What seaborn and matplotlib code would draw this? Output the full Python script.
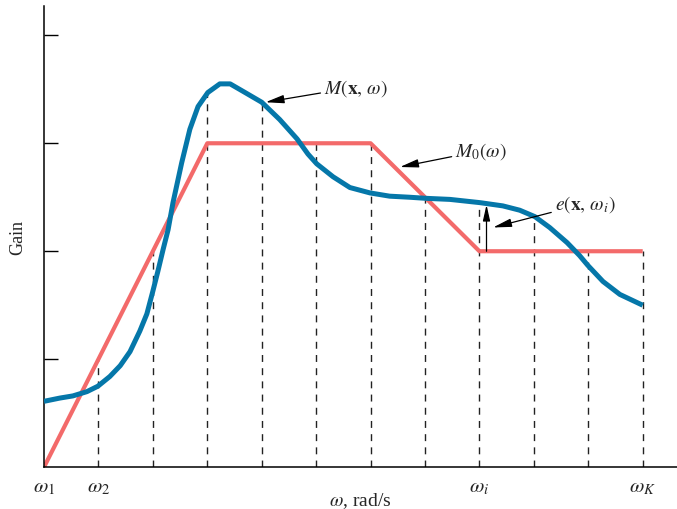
import numpy as np
import pandas as pd
import matplotlib
matplotlib.use('Agg')
import matplotlib.pyplot as plt
import seaborn as sns

# frequency grid omega_1 ... omega_K (index positions)
omega_k = [0, 1, 2, 3, 4, 5, 6, 7, 8, 9, 10, 11]
# desired gain M0(omega), piecewise linear
m0_vals = [0, 1, 2, 3, 3, 3, 3, 2.5, 2, 2, 2, 2]
m_at_k = [0.61, 0.75, 1.63, 3.47, 3.38, 2.81, 2.54, 2.49, 2.45, 2.32, 1.87, 1.50]

# points along the smooth M(x, omega) curve
m_x = [0.00, 0.29, 0.53, 0.79, 0.99, 1.21, 1.40, 1.58, 1.76, 1.89, 2.00, 2.09,
       2.19, 2.28, 2.37, 2.53, 2.68, 2.83, 3.01, 3.23, 3.42, 3.66, 4.00, 4.33,
       4.65, 4.85, 5.01, 5.31, 5.62, 5.99, 6.35, 6.72, 7.02, 7.46, 8.01, 8.43,
       8.74, 9.02, 9.29, 9.61, 9.84, 9.99, 10.27, 10.58, 11.00]
m_y = [0.61, 0.64, 0.66, 0.70, 0.75, 0.84, 0.94, 1.07, 1.26, 1.42, 1.63, 1.81,
       2.02, 2.20, 2.45, 2.82, 3.13, 3.34, 3.47, 3.55, 3.55, 3.48, 3.38, 3.22,
       3.04, 2.90, 2.81, 2.69, 2.59, 2.54, 2.51, 2.50, 2.49, 2.48, 2.45, 2.42,
       2.38, 2.32, 2.22, 2.08, 1.96, 1.87, 1.72, 1.60, 1.50]

tick_pos = [0, 1, 8, 11]
tick_labels = [r'$\omega_1$', r'$\omega_2$', r'$\omega_i$', r'$\omega_K$']

sns.set_theme(style='white')
plt.rcParams['font.family'] = ['Liberation Serif', 'DejaVu Serif']
plt.rcParams['mathtext.fontset'] = 'stix'

RED = '#f36a6a'
BLUE = '#0577a9'

fig = plt.figure(figsize=(6.77, 5.10), dpi=100)
ax = fig.add_axes([0.065, 0.082, 0.935, 0.904])

# dashed sampling lines
tops = np.maximum(m0_vals, m_at_k)
ax.vlines(omega_k[1:], 0, tops[1:], colors='#222222', linestyles=(0, (5, 4.5)), lw=1.0, zorder=1)

df0 = pd.DataFrame({'w': omega_k, 'g': m0_vals})
dfm = pd.DataFrame({'w': m_x, 'g': m_y})
sns.lineplot(data=df0, x='w', y='g', color=RED, lw=3.0, ax=ax, zorder=2)
sns.lineplot(data=dfm, x='w', y='g', color=BLUE, lw=3.6, ax=ax, sort=False, zorder=3)
for ln in ax.lines:
    ln.set_solid_joinstyle('round')
    ln.set_solid_capstyle('butt')

ax.set_xlim(0, 11.63)
ax.set_ylim(0, 4.27)
sns.despine(ax=ax)
for s in ['left', 'bottom']:
    ax.spines[s].set_color('black')
    ax.spines[s].set_linewidth(1.1)

ax.set_yticks([1, 2, 3, 4])
ax.set_yticklabels([])
ax.tick_params(axis='y', direction='in', length=10, width=1.0, color='black', left=True)
ax.set_xticks(tick_pos)
ax.set_xticklabels(tick_labels, fontsize=15)
ax.tick_params(axis='x', length=0, pad=7)

ax.set_xlabel(r'$\omega$, rad/s', fontsize=14, labelpad=-4)
ax.set_ylabel('Gain', fontsize=13, labelpad=9)

arrow = dict(arrowstyle='-|>,head_length=0.8,head_width=0.18', color='black', lw=0.9,
             shrinkA=0, shrinkB=0)
ax.annotate(r'$M(\mathbf{x},\,\omega)$', xy=(4.07, 3.38), xytext=(5.14, 3.52),
            fontsize=14, va='center', ha='left', arrowprops=arrow)
ax.annotate(r'$M_0(\omega)$', xy=(6.54, 2.78), xytext=(7.55, 2.93),
            fontsize=14, va='center', ha='left', arrowprops=arrow)
ax.annotate(r'$e(\mathbf{x},\,\omega_i)$', xy=(8.25, 2.22), xytext=(9.38, 2.44),
            fontsize=14, va='center', ha='left', arrowprops=arrow)
# error arrow from M0 up to M at omega_i
ax.annotate('', xy=(8.13, 2.43), xytext=(8.13, 2.0), arrowprops=arrow)

fig.savefig('out.png', dpi=100)
plt.close(fig)
